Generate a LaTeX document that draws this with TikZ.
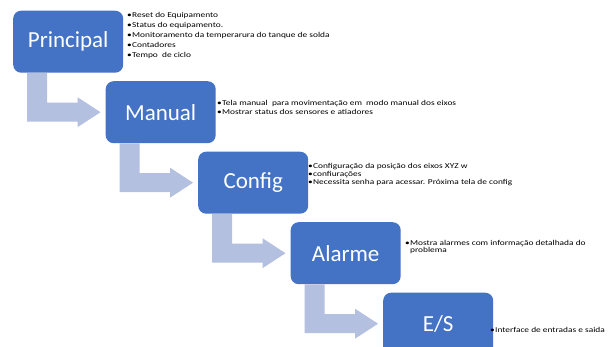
\documentclass[tikz,border=0pt]{standalone}
\usepackage{fontspec}
\setmainfont{Carlito}
\newfontfamily\smallfont[FakeStretch=1.25]{Carlito}
\usetikzlibrary{calc}
\definecolor{boxblue}{HTML}{4472C4}
\definecolor{arrowgrey}{HTML}{B4C0E0}
\newcommand{\bul}{•\hspace{0.3pt}}
\begin{document}
\begin{tikzpicture}[x=1pt,y=-1pt,
  stage/.style={fill=boxblue, rounded corners=8pt, minimum width=110pt, minimum height=62pt,
    inner sep=0pt, text=white, font=\fontsize{23}{27}\selectfont, anchor=north west},
  bullets/.style={anchor=north west, inner sep=0pt, align=left, text=black},
  bent/.style={fill=arrowgrey}]
\useasboundingbox (0,0) rectangle (611,347);
\fill[white] (0,0) rectangle (611,347);

\node[stage] (p) at (13,10.5) {Principal};
\node[stage] (m) at (105.5,81) {Manual};
\node[stage] (c) at (198,151.5) {Config};
\node[stage] (a) at (290.5,222) {Alarme};
\node[stage] (e) at (383,292.5) {E/S};

\foreach \s/\t in {p/m,m/c,c/a,a/e}{
  \fill[bent] ($(\s.south west)+(14,0)$) |- ($(\t.west)+(-28,9.5)$) -- ++(0,5.5)
    -- ($(\t.west)+(-5,0)$) -- ($(\t.west)+(-28,-15)$) -- ++(0,5.5)
    -| ($(\s.south west)+(34,0)$) -- cycle;
}

\node[bullets, font=\smallfont\fontsize{7.5}{10}\selectfont] (tp) at (127,12)
  {\bul Reset do Equipamento\\ \bul Status do equipamento.\\
   \bul Monitoramento da temperarura do tanque de solda\\ \bul Contadores\\ \bul Tempo\ \ de ciclo};
\node[bullets, font=\smallfont\fontsize{7.5}{8.3}\selectfont] (tm) at (217,100.5)
  {\bul Tela manual\ \ para movimentação em\ \ modo manual dos eixos\\
   \bul Mostrar status dos sensores e atiadores};
\node[bullets, font=\smallfont\fontsize{7.5}{8}\selectfont] (tc) at (308,163)
  {\bul Configuração da posição dos eixos XYZ w\\ \bul confiurações\\
   \bul Necessita senha para acessar. Próxima tela de config};
\node[bullets, font=\smallfont\fontsize{7.5}{7.5}\selectfont] (ta) at (405,240)
  {\bul Mostra alarmes com informação detalhada do\\ \hphantom{\bul}problema};
\node[bullets, font=\smallfont\fontsize{7.5}{8}\selectfont] (te) at (490,327)
  {\bul Interface de entradas e saida};
\end{tikzpicture}
\end{document}
